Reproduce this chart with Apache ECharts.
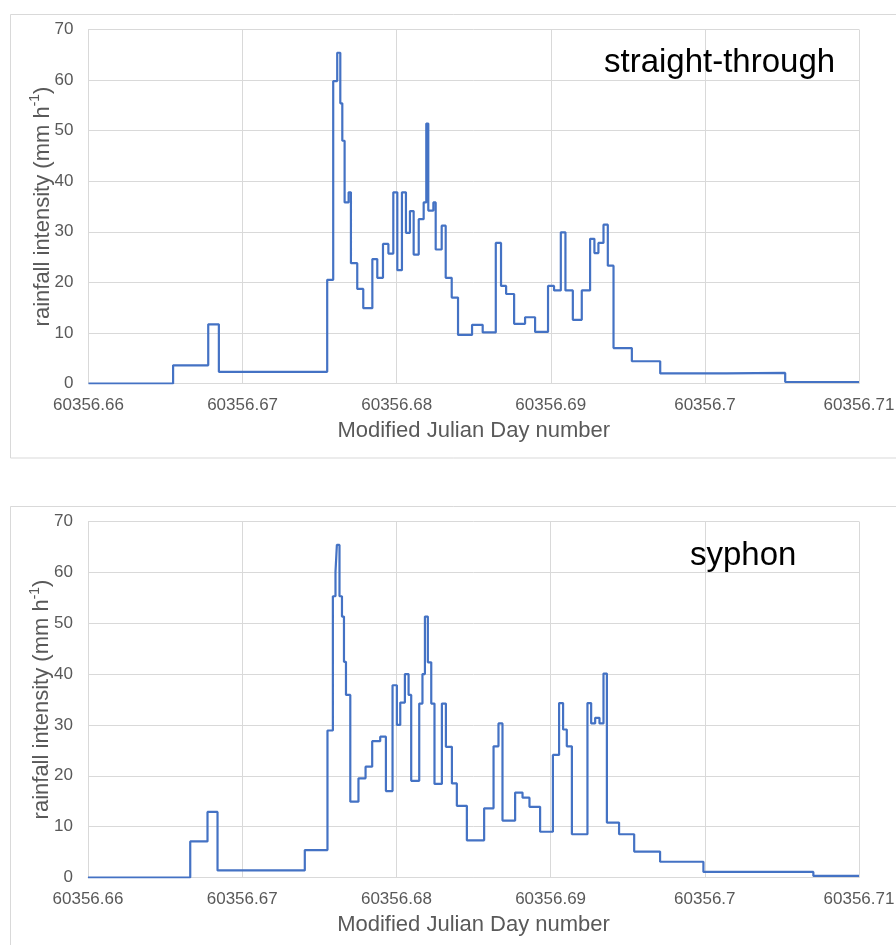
<!DOCTYPE html>
<html>
<head>
<meta charset="utf-8">
<script src="https://cdn.jsdelivr.net/npm/echarts@6/dist/echarts.min.js"></script>
<style>
html,body{margin:0;padding:0;background:#fff;}
#chart{width:896px;height:945px;}
</style>
</head>
<body>
<div id="chart"></div>
<script>
// ---- data (Modified Julian Day, rainfall intensity mm/h; each level holds until next time) ----
const timeStraight = [
  60356.66000, 60356.66549, 60356.66777, 60356.66846, 60356.67549, 60356.67588, 60356.67614,
  60356.67634, 60356.67647, 60356.67662, 60356.67688, 60356.67703, 60356.67744, 60356.67783,
  60356.67842, 60356.67874, 60356.67911, 60356.67946, 60356.67978, 60356.68004, 60356.68034,
  60356.68060, 60356.68086, 60356.68110, 60356.68143, 60356.68175, 60356.68192, 60356.68205,
  60356.68238, 60356.68253, 60356.68292, 60356.68318, 60356.68357, 60356.68398, 60356.68489,
  60356.68558, 60356.68643, 60356.68677, 60356.68710, 60356.68762, 60356.68833, 60356.68898,
  60356.68982, 60356.69021, 60356.69065, 60356.69095, 60356.69143, 60356.69201, 60356.69255,
  60356.69283, 60356.69309, 60356.69342, 60356.69370, 60356.69407, 60356.69526, 60356.69710,
  60356.70138, 60356.70521, 60356.71000
];
const rateStraight = [
  0, 3.6, 11.7, 2.3, 20.5, 59.8, 65.4,
  55.4, 48, 35.8, 37.8, 23.8, 18.7, 14.9,
  24.6, 20.9, 27.6, 25.7, 37.8, 22.4, 37.8,
  29.8, 34.1, 25.5, 32.5, 35.8, 51.4, 34.2,
  35.8, 26.5, 31.2, 20.9, 17, 9.6, 11.6,
  10.1, 27.8, 19.3, 17.7, 11.8, 13.1, 10.2,
  19.3, 18.4, 29.9, 18.4, 12.6, 18.4, 28.6,
  25.8, 27.8, 31.4, 23.3, 7.0, 4.4, 2.0,
  2.1, 0.3, 0.3
];
const timeSyphon = [
  60356.66000, 60356.66663, 60356.66775, 60356.66840, 60356.67406, 60356.67553, 60356.67588,
  60356.67605, 60356.67614, 60356.67631, 60356.67647, 60356.67660, 60356.67673, 60356.67701,
  60356.67754, 60356.67800, 60356.67843, 60356.67895, 60356.67932, 60356.67975, 60356.68003,
  60356.68025, 60356.68055, 60356.68079, 60356.68096, 60356.68148, 60356.68169, 60356.68185,
  60356.68204, 60356.68226, 60356.68247, 60356.68295, 60356.68321, 60356.68360, 60356.68392,
  60356.68457, 60356.68569, 60356.68630, 60356.68662, 60356.68688, 60356.68770, 60356.68818,
  60356.68863, 60356.68932, 60356.69015, 60356.69055, 60356.69081, 60356.69105, 60356.69138,
  60356.69239, 60356.69263, 60356.69289, 60356.69317, 60356.69343, 60356.69365, 60356.69444,
  60356.69542, 60356.69710, 60356.69991, 60356.70704, 60356.71000
];
const rateSyphon = [
  0, 7.1, 12.9, 1.4, 5.4, 28.9, 55.3,
  60.1, 65.4, 55.3, 51.3, 42.4, 35.9, 14.9,
  19.5, 21.8, 26.8, 27.7, 17, 37.8, 30,
  34.4, 40, 35.9, 19, 34.2, 40, 51.3,
  42.3, 34.2, 18.4, 34.2, 25.7, 18.5, 14.1,
  7.3, 13.6, 25.8, 30.3, 11.2, 16.7, 15.7,
  13.9, 9.0, 24.1, 34.3, 29.1, 25.8, 8.5,
  34.3, 30.3, 31.4, 30.3, 40.1, 10.8, 8.5,
  5.1, 3.1, 1.1, 0.3, 0.3
];
const panelLabels = ['straight-through', 'syphon'];
const xName = 'Modified Julian Day number';
const xMin = 60356.66, xMax = 60356.71, xStep = 0.01;
const yMin = 0, yMax = 70, yStep = 10;

// ---- chart ----
const FONT = '"Liberation Sans", Arial, Helvetica, sans-serif';
const GRID_C = '#d9d9d9';
const TXT_C = '#595959';
const LINE_C = '#4472C4';

function pairs(t, v) { return t.map((x, i) => [x, v[i]]); }

const grids = [
  { left: 88.5, top: 29.5, width: 770.5, height: 354, containLabel: false, outerBoundsMode: 'none' },
  { left: 88, top: 521.5, width: 771, height: 356, containLabel: false, outerBoundsMode: 'none' }
];

function xAxis(i) {
  return {
    type: 'value', gridIndex: i, min: xMin, max: xMax, interval: xStep,
    name: xName, nameLocation: 'middle', nameGap: 36, nameMoveOverlap: false,
    nameTextStyle: { fontFamily: FONT, fontSize: 22, color: TXT_C },
    axisLine: { show: true, lineStyle: { color: GRID_C, width: 1 } },
    axisTick: { show: false },
    splitLine: { show: true, lineStyle: { color: GRID_C, width: 1 } },
    axisLabel: {
      margin: 13, fontFamily: FONT, fontSize: 17, color: TXT_C,
      showMinLabel: true, showMaxLabel: true, hideOverlap: false,
      formatter: v => String(parseFloat(Number(v).toFixed(2)))
    }
  };
}
function yAxis(i) {
  return {
    type: 'value', gridIndex: i, min: yMin, max: yMax, interval: yStep,
    name: '{a|rainfall intensity (mm h}{s|-1}{a|)}', nameLocation: 'middle', nameGap: 35,
    nameMoveOverlap: false,
    nameTextStyle: {
      rich: {
        a: { fontFamily: FONT, fontSize: 22, color: TXT_C, lineHeight: 25, verticalAlign: 'bottom' },
        s: { fontFamily: FONT, fontSize: 14, color: TXT_C, lineHeight: 25, verticalAlign: 'top' }
      }
    },
    axisLine: { show: true, lineStyle: { color: GRID_C, width: 1 } },
    axisTick: { show: false },
    splitLine: { show: true, lineStyle: { color: GRID_C, width: 1 } },
    axisLabel: { margin: 15, fontFamily: FONT, fontSize: 17, color: TXT_C }
  };
}

const option = {
  animation: false,
  backgroundColor: '#ffffff',
  title: [
    { text: panelLabels[0], left: 599, top: 41, textStyle: { fontFamily: FONT, fontSize: 33, fontWeight: 'normal', color: '#000' } },
    { text: panelLabels[1], left: 685, top: 534, textStyle: { fontFamily: FONT, fontSize: 33, fontWeight: 'normal', color: '#000' } }
  ],
  graphic: [
    { type: 'rect', z: -1, shape: { x: 10.5, y: 14.5, width: 900, height: 443.5 }, style: { fill: 'none', stroke: GRID_C, lineWidth: 1 } },
    { type: 'rect', z: -1, shape: { x: 10.5, y: 506.5, width: 900, height: 500 }, style: { fill: 'none', stroke: GRID_C, lineWidth: 1 } }
  ],
  grid: grids,
  xAxis: [xAxis(0), xAxis(1)],
  yAxis: [yAxis(0), yAxis(1)],
  series: [
    { type: 'line', xAxisIndex: 0, yAxisIndex: 0, step: 'end', showSymbol: false,
      lineStyle: { color: LINE_C, width: 2.2 }, itemStyle: { color: LINE_C },
      data: pairs(timeStraight, rateStraight) },
    { type: 'line', xAxisIndex: 1, yAxisIndex: 1, step: 'end', showSymbol: false,
      lineStyle: { color: LINE_C, width: 2.2 }, itemStyle: { color: LINE_C },
      data: pairs(timeSyphon, rateSyphon) }
  ]
};

const chart = echarts.init(document.getElementById('chart'), null, { renderer: 'canvas' });
chart.setOption(option);
</script>
</body>
</html>
